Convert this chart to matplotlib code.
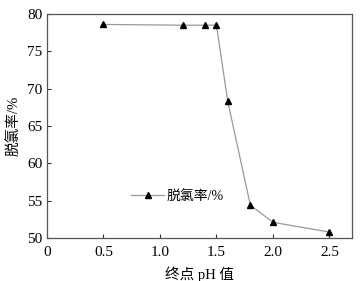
import matplotlib.pyplot as plt

# Data
ph = [0.5, 1.2, 1.4, 1.5, 1.6, 1.8, 2.0, 2.5]
rate = [78.6, 78.5, 78.5, 78.5, 68.3, 54.4, 52.1, 50.8]
xticks = [0, 0.5, 1.0, 1.5, 2.0, 2.5]
xticklabels = ['0', '0.5', '1.0', '1.5', '2.0', '2.5']
yticks = [50, 55, 60, 65, 70, 75, 80]

plt.rcParams['font.family'] = ['Liberation Serif', 'Noto Sans CJK SC']

fig = plt.figure(figsize=(3.62, 2.81), dpi=100)
ax = fig.add_axes([47 / 362, 1 - 238 / 281, 305 / 362, 224 / 281])

ax.plot(ph, rate, color='#999999', linewidth=0.9, marker='^',
        markersize=5, markerfacecolor='black', markeredgecolor='black',
        label='脱氯率/%')

ax.set_xlim(0, 2.7)
ax.set_ylim(50, 80)
ax.set_xticks(xticks)
ax.set_xticklabels(xticklabels)
ax.set_yticks(yticks)
ax.tick_params(direction='in', length=3, labelsize=11, color='#333333',
               top=False, right=False)
ax.tick_params(axis='x', pad=6)
for s in ax.spines.values():
    s.set_color('#555555')
    s.set_linewidth(0.9)

ax.set_xlabel('终点 pH 值', fontsize=10.5, labelpad=5)
ax.set_ylabel('脱氯率/%', fontsize=10.5, labelpad=4)

ax.legend(loc='center left', bbox_to_anchor=(0.275, 0.185), frameon=False,
          fontsize=10, handlelength=2.4, handletextpad=0.2,
          borderaxespad=0, borderpad=0)

fig.savefig('out.png', dpi=100)
